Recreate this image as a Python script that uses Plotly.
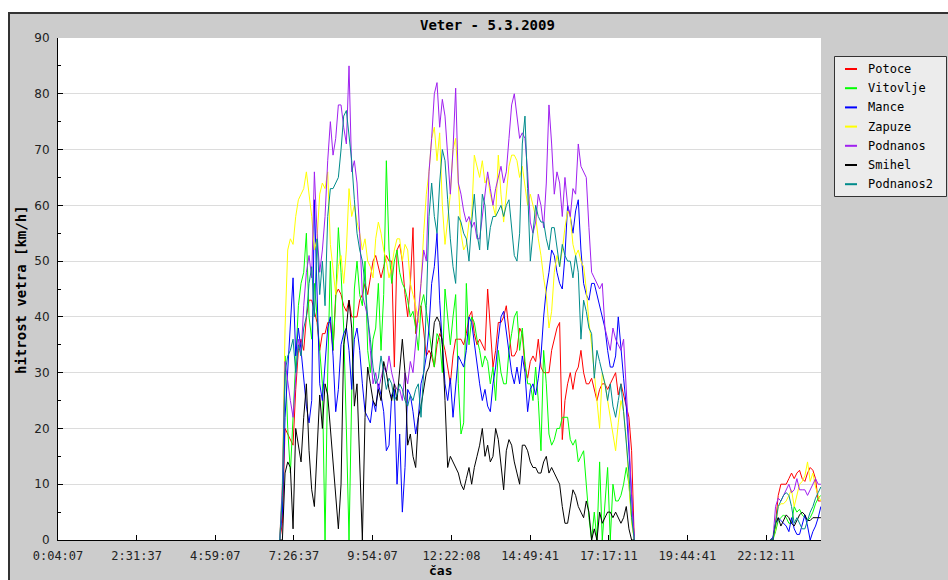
import plotly.graph_objects as go

# ---------------- data ----------------
title_text = "Veter - 5.3.2009"
x_title = "čas"
y_title = "hitrost vetra [km/h]"

tick_labels = ["0:04:07", "2:31:37", "4:59:07", "7:26:37", "9:54:07",
               "12:22:08", "14:49:41", "17:17:11", "19:44:41", "22:12:11"]
axis_start = "0:04:07"
axis_end = "23:55:15"

day_start = "7:00:00"       # first sample of the day block
evening_start = "22:20:00"  # first sample of the evening block
step_minutes = 5

names = ["Potoce", "Vitovlje", "Mance", "Zapuze", "Podnanos", "Smihel", "Podnanos2"]
colors = ["#ff0000", "#00ff00", "#0000ff", "#ffff00", "#a020f0", "#000000", "#008b8b"]

potoce_day = [0, 3, 20, 19, 18, 17, 27, 34, 36, 34, 40, 43, 43, 41, 39, 34, 37, 37, 39, 39, 34, 44, 45, 44, 42,
              41, 43, 40, 40, 40, 43, 44, 46, 44, 47, 50, 51, 49, 47, 49, 51, 50, 50, 31, 52,
              53, 50, 44, 40, 46, 56, 37, 41, 42, 37, 33, 34, 33, 31, 35, 37, 36, 34, 31, 28, 33, 36, 36, 36, 35,
              37, 40, 41, 37, 35, 36, 35, 34, 45, 37, 31, 34, 39, 39, 40, 42, 37, 33, 33, 34, 38, 37,
              31, 29, 32, 33, 32, 36, 31, 30, 30, 30, 34, 36, 38, 39, 18, 25, 28, 30, 27, 30, 31, 34, 30, 28, 28,
              29, 27, 25, 27, 28, 28, 27, 28, 29, 30, 26, 28, 26, 24, 22, 16, 0]
vitovlje_day = [0, 8, 33, 20, 12, 22, 34, 42, 46, 48, 55, 40, 36, 46, 40, 34, 28, 0, 30, 50, 34, 43, 56, 48, 38,
                20, 0, 26, 45, 50, 44, 42, 50, 34, 30, 36, 38, 46, 34, 44, 68, 52, 46, 50, 52,
                48, 46, 45, 43, 40, 41, 38, 34, 42, 44, 41, 37, 34, 31, 37, 36, 30, 45, 40, 35, 40, 44, 28, 19, 21,
                46, 35, 40, 39, 36, 34, 31, 33, 32, 28, 31, 25, 34, 30, 28, 28, 34, 37, 40, 41, 34, 38,
                32, 28, 28, 25, 31, 25, 16, 34, 28, 19, 17, 18, 20, 20, 22, 22, 22, 18, 17, 18, 14, 15, 16, 10, 4,
                0, 5, 0, 14, 0, 7, 13, 0, 10, 7, 7, 8, 10, 13, 10, 4, 0]
mance_day = [0, 5, 22, 30, 38, 47, 33, 38, 34, 29, 24, 21, 25, 61, 44, 28, 25, 32, 38, 40, 33, 23, 27, 35, 37,
             38, 34, 27, 36, 38, 34, 28, 23, 22, 21, 25, 23, 28, 26, 23, 16, 17, 26, 27, 10,
             19, 5, 13, 27, 26, 23, 19, 22, 28, 30, 33, 38, 46, 49, 55, 43, 35, 28, 25, 29, 22, 28, 33, 32, 31,
             34, 40, 39, 35, 31, 28, 25, 27, 24, 23, 28, 31, 36, 40, 41, 37, 34, 30, 28, 31, 28, 33,
             30, 23, 27, 28, 26, 29, 33, 40, 45, 48, 52, 51, 48, 46, 45, 51, 60, 58, 55, 59, 61, 52, 46, 44, 43,
             46, 46, 44, 42, 40, 38, 34, 31, 31, 33, 40, 34, 29, 24, 16, 6, 0]
zapuze_day = [0, 10, 38, 52, 54, 53, 58, 61, 62, 63, 66, 62, 58, 52, 54, 62, 64, 63, 66, 53, 48, 44, 49, 51, 46,
              52, 63, 58, 60, 57, 55, 52, 54, 50, 49, 47, 54, 57, 55, 52, 50, 47, 49, 52, 54,
              54, 50, 53, 52, 46, 44, 42, 39, 46, 55, 62, 66, 72, 74, 68, 73, 60, 53, 58, 62, 70, 72, 64, 55, 52,
              53, 57, 58, 69, 67, 65, 68, 64, 65, 62, 60, 58, 69, 62, 57, 62, 67, 69, 69, 68, 65, 67,
              63, 60, 62, 60, 58, 54, 51, 47, 44, 38, 41, 48, 51, 49, 52, 56, 59, 58, 53, 51, 52, 50, 49, 45, 39,
              35, 30, 26, 20, 30, 28, 25, 22, 19, 16, 21, 25, 23, 18, 10, 3, 0]
podnanos_day = [0, 10, 32, 28, 25, 22, 30, 36, 33, 42, 48, 51, 47, 66, 55, 48, 52, 58, 68, 75, 69, 72, 78, 78, 74,
                71, 85, 66, 68, 64, 55, 44, 42, 40, 34, 28, 30, 27, 29, 31, 30, 33, 30, 28, 27,
                27, 25, 30, 28, 32, 30, 35, 40, 46, 52, 50, 66, 72, 80, 82, 74, 79, 76, 68, 62, 70, 81, 64, 62, 59,
                57, 58, 56, 57, 54, 54, 58, 63, 66, 63, 60, 63, 65, 67, 64, 66, 72, 78, 80, 76, 72, 73,
                72, 66, 57, 55, 57, 62, 60, 56, 64, 78, 71, 62, 66, 64, 58, 65, 60, 58, 63, 62, 71, 67, 66, 65, 56,
                48, 47, 46, 45, 46, 38, 36, 34, 38, 36, 35, 34, 36, 28, 18, 8, 0]
smihel_day = [0, 0, 12, 14, 13, 2, 20, 17, 14, 22, 28, 16, 9, 6, 16, 26, 20, 28, 26, 20, 13, 7, 2, 10, 35,
              38, 43, 38, 24, 28, 12, 0, 22, 31, 28, 25, 24, 27, 25, 32, 30, 27, 25, 28, 25,
              30, 36, 30, 17, 19, 15, 13, 22, 24, 27, 30, 31, 34, 39, 40, 39, 35, 25, 13, 15, 14, 13, 12, 10, 9,
              11, 13, 10, 13, 15, 17, 20, 15, 17, 14, 15, 20, 18, 13, 9, 16, 18, 17, 14, 12, 10, 17,
              17, 16, 14, 13, 13, 12, 12, 14, 15, 12, 13, 12, 11, 10, 6, 3, 3, 6, 9, 8, 6, 5, 4, 7, 5,
              0, 2, 0, 5, 3, 4, 5, 5, 4, 5, 4, 3, 4, 6, 2, 0, 0]
podnanos2_day = [0, 8, 30, 33, 34, 36, 30, 35, 33, 38, 40, 46, 49, 40, 54, 44, 50, 42, 58, 63, 63, 64, 65, 70, 76,
                 77, 73, 68, 61, 55, 52, 50, 46, 40, 36, 31, 28, 29, 33, 30, 27, 29, 28, 25, 26,
                 28, 27, 25, 24, 26, 25, 27, 28, 22, 30, 42, 58, 64, 58, 55, 64, 70, 68, 61, 54, 49, 46, 58, 57, 55,
                 54, 50, 57, 62, 55, 52, 62, 60, 52, 56, 58, 58, 59, 60, 58, 60, 61, 56, 51, 50, 55, 71,
                 76, 63, 50, 55, 60, 58, 57, 57, 54, 52, 56, 56, 52, 49, 53, 51, 50, 50, 47, 51, 48, 36, 43, 41, 38,
                 37, 29, 34, 32, 30, 28, 25, 28, 24, 22, 25, 28, 23, 17, 12, 4, 0]

potoce_eve = [0, 0, 3, 8, 10, 10, 10, 11, 12, 11, 12, 12.5, 11, 10.5, 12, 13, 12.5, 11, 7, 7]
vitovlje_eve = [0, 0, 1.5, 3.5, 4, 4.5, 4, 3, 3, 6, 5, 5.5, 4.5, 4, 3.5, 4, 5, 6.5, 7.5, 8]
mance_eve = [0, 0.5, 2.5, 4, 3.5, 3, 2.5, 1.5, 4, 2, 1, 1, 3, 4.5, 2.5, 0, 1.5, 2.5, 4, 6]
zapuze_eve = [0, 0, 2, 6, 6.5, 6.5, 7, 8, 9, 6, 8, 10, 10.5, 11.5, 14, 10.5, 12, 9.5, 8, 7]
podnanos_eve = [0, 0, 6, 7.5, 7, 8, 9, 10, 8.5, 9, 11, 9, 9, 9, 8, 9, 10, 11, 10, 10]
smihel_eve = [0, 0, 3, 4, 2.5, 3.5, 4.5, 4, 3, 2.5, 3.5, 4.5, 5, 4.5, 3.5, 3.5, 4, 4, 4, 4]
podnanos2_eve = [0, 0, 3, 6, 7, 8, 8.5, 8, 6, 3, 4, 3, 2, 2, 3.5, 5, 6, 7.5, 8.5, 9.5]

day_values = [potoce_day, vitovlje_day, mance_day, zapuze_day, podnanos_day, smihel_day, podnanos2_day]
eve_values = [potoce_eve, vitovlje_eve, mance_eve, zapuze_eve, podnanos_eve, smihel_eve, podnanos2_eve]

# ---------------- layout geometry (pixels) ----------------
W, H = 948, 580
L, R, T, B = 58, 821, 38, 540
GRAY = "#cccccc"
FRAME = "#333333"


def hours(s):
    p = [int(v) for v in s.split(":")]
    while len(p) < 3:
        p.append(0)
    return p[0] + p[1] / 60 + p[2] / 3600


def sample_times(start, n):
    h0 = hours(start)
    return [h0 + i * step_minutes / 60 for i in range(n)]


def fx(px):
    return (px - L) / (R - L)


def fy(py):
    return (B - py) / (B - T)


fig = go.Figure()
for name, color, dv, ev in zip(names, colors, day_values, eve_values):
    xs = sample_times(day_start, len(dv)) + [None] + sample_times(evening_start, len(ev))
    ys = list(dv) + [None] + list(ev)
    fig.add_trace(go.Scatter(x=xs, y=ys, mode="lines", name=name,
                             line=dict(color=color, width=1), connectgaps=False,
                             showlegend=False, hoverinfo="skip"))

ytickfont = dict(family="DejaVu Sans", size=12, color="#222222")
xtickfont = dict(family="DejaVu Sans Mono", size=12, color="#222222")
mono_bold = dict(family="DejaVu Sans Mono", size=14, color="#000000")

shapes = []
annotations = []

# outer white strip + dark frame border
shapes.append(dict(type="rect", xref="paper", yref="paper", x0=fx(0), x1=fx(W), y0=fy(12), y1=fy(0),
                   fillcolor="white", line=dict(width=0), layer="above"))
shapes.append(dict(type="rect", xref="paper", yref="paper", x0=fx(0), x1=fx(8), y0=fy(H), y1=fy(0),
                   fillcolor="white", line=dict(width=0), layer="above"))
shapes.append(dict(type="line", xref="paper", yref="paper", x0=fx(9), x1=fx(W), y0=fy(13), y1=fy(13),
                   line=dict(color=FRAME, width=2), layer="above"))
shapes.append(dict(type="line", xref="paper", yref="paper", x0=fx(9), x1=fx(9), y0=fy(12), y1=fy(H),
                   line=dict(color=FRAME, width=2), layer="above"))

# custom legend
lg_x0, lg_x1, lg_y0, lg_y1 = 834.5, 946.5, 56.5, 196.5
shapes.append(dict(type="rect", xref="paper", yref="paper", x0=fx(lg_x0), x1=fx(lg_x1),
                   y0=fy(lg_y1), y1=fy(lg_y0), fillcolor="#ececec",
                   line=dict(color=FRAME, width=1), layer="above"))
row0, row_step = 69, 19.2
for i, (name, color) in enumerate(zip(names, colors)):
    yy = row0 + i * row_step
    shapes.append(dict(type="line", xref="paper", yref="paper", x0=fx(845), x1=fx(857),
                       y0=fy(yy), y1=fy(yy), line=dict(color=color, width=2), layer="above"))
    annotations.append(dict(text=name, xref="paper", yref="paper", x=fx(866), y=fy(yy),
                            xanchor="left", yanchor="middle", showarrow=False,
                            font=dict(family="DejaVu Sans Mono", size=12, color="#000000")))

# titles
annotations.append(dict(text="<b>" + title_text + "</b>", xref="paper", yref="paper", x=fx(487), y=fy(25),
                        xanchor="center", yanchor="middle", showarrow=False, font=mono_bold))
annotations.append(dict(text="<b>" + x_title + "</b>", xref="paper", yref="paper", x=fx(440), y=fy(570),
                        xanchor="center", yanchor="middle", showarrow=False, borderpad=0,
                        font=dict(family="DejaVu Sans Mono", size=13, color="#000000")))
annotations.append(dict(text="<b>" + y_title + "</b>", xref="paper", yref="paper", x=fx(21), y=fy(290),
                        xanchor="center", yanchor="middle", showarrow=False, textangle=-90,
                        font=mono_bold))

fig.update_layout(
    width=W, height=H,
    margin=dict(l=L, r=W - R, t=T, b=H - B, pad=0),
    paper_bgcolor=GRAY, plot_bgcolor="white",
    showlegend=False,
    shapes=shapes, annotations=annotations,
    xaxis=dict(range=[hours(axis_start), hours(axis_end)],
               tickmode="array", tickvals=[hours(s) for s in tick_labels], ticktext=tick_labels,
               ticks="inside", ticklen=5, tickcolor="black", tickwidth=1,
               showgrid=False, zeroline=False, showline=True, linecolor="black", linewidth=1,
               tickfont=xtickfont, ticklabelstandoff=5, fixedrange=True),
    yaxis=dict(range=[0, 90], tick0=0, dtick=10,
               ticks="inside", ticklen=5, tickcolor="black", tickwidth=1,
               minor=dict(dtick=5, ticks="inside", ticklen=3, tickcolor="black", showgrid=False),
               showgrid=True, gridcolor="#dcdcdc", gridwidth=1,
               zeroline=False, showline=True, linecolor="black", linewidth=1,
               tickfont=ytickfont, ticklabelstandoff=5, fixedrange=True),
)

fig.write_html("out.html")
